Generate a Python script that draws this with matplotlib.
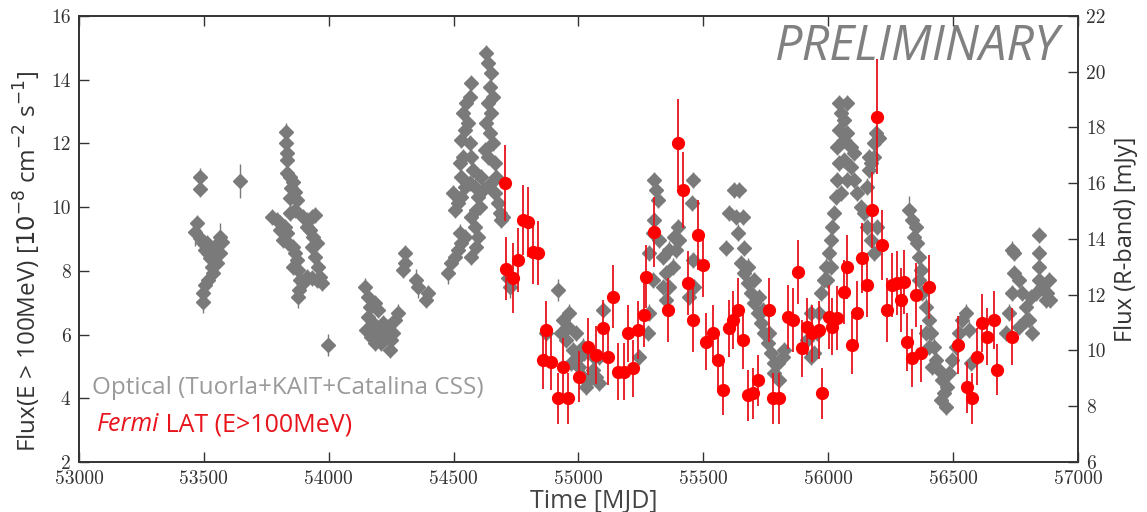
import matplotlib
matplotlib.use('Agg')
import matplotlib.pyplot as plt

# Optical R-band light curve (MJD, flux in mJy, error)
opt_mjd = [
    53464, 53471, 53484, 53484, 53484, 53497, 53497, 53497, 53504, 53504,
    53511, 53517, 53517, 53524, 53531, 53537, 53537, 53544, 53551, 53557,
    53564, 53564, 53571, 53644,
    53771, 53791, 53804, 53804, 53817, 53824, 53828, 53828, 53831, 53831,
    53831, 53833, 53838, 53844, 53844, 53844, 53850, 53857, 53857, 53857,
    53864, 53864, 53864, 53871, 53871, 53877, 53877, 53881, 53884, 53897,
    53897, 53911, 53911, 53911, 53924, 53931, 53931, 53931, 53937, 53944,
    53944, 53951, 53951, 53957, 53964, 53971, 53997,
    54144, 54151, 54157, 54157, 54164, 54171, 54177, 54184, 54184, 54197,
    54197, 54211, 54217, 54224, 54231, 54237, 54244, 54251, 54257, 54264,
    54277, 54297, 54304, 54304, 54351, 54357, 54391, 54397,
    54477, 54491, 54497, 54504, 54504, 54517, 54517, 54524, 54524, 54531,
    54531, 54531, 54531, 54537, 54537, 54544, 54544, 54544, 54551, 54557,
    54564, 54564, 54564, 54571, 54571, 54571, 54571, 54577, 54584, 54584,
    54591, 54591, 54597, 54597, 54604, 54611, 54617, 54624, 54631, 54631,
    54637, 54637, 54637, 54644, 54644, 54651, 54651, 54651, 54657, 54657,
    54664, 54664, 54671, 54677, 54684, 54691, 54697, 54717, 54724,
    54871, 54917, 54931, 54937, 54951, 54957, 54964, 54971, 54977, 54991,
    54991, 55004, 55017, 55017, 55024, 55031, 55044, 55057, 55064, 55071,
    55084, 55084, 55097,
    55244, 55277, 55284, 55284, 55297, 55297, 55304, 55304, 55311, 55317,
    55324, 55337, 55337, 55351, 55351, 55364, 55364, 55377, 55384, 55391,
    55397, 55404, 55444, 55453, 55457, 55457, 55464,
    55591, 55604, 55624, 55631, 55637, 55644, 55651, 55657, 55664, 55664,
    55677, 55677, 55691, 55704, 55704, 55717, 55724, 55731, 55737, 55744,
    55757, 55764, 55771, 55784, 55784, 55797, 55804, 55817, 55824,
    55917, 55931, 55931, 55944, 55957, 55964, 55971, 55984, 55991, 55997,
    56004, 56011, 56011, 56017, 56024, 56031, 56037, 56037, 56044, 56044,
    56044, 56051, 56051, 56064, 56064, 56064, 56077, 56077, 56077, 56091,
    56091, 56104, 56104, 56117, 56131, 56144, 56157, 56157, 56164, 56164,
    56171, 56171, 56184, 56184, 56184, 56191, 56197, 56204,
    56324, 56337, 56344, 56351, 56357, 56364, 56364, 56371, 56377, 56391,
    56391, 56404, 56404, 56411, 56417, 56424, 56431, 56444, 56451, 56457,
    56464, 56471, 56477, 56484, 56497, 56511, 56524, 56537, 56551, 56564,
    56571,
    56711, 56724, 56737, 56737, 56744, 56744, 56764, 56764, 56777, 56791,
    56791, 56804, 56811, 56817, 56831, 56844, 56844, 56844, 56844, 56857,
    56871, 56877, 56884, 56890,
]
opt_flux = [
    14.26, 14.57, 16.23, 15.79, 14.04, 13.86, 12.06, 11.74, 13.60, 12.35,
    13.86, 13.50, 12.53, 13.30, 13.00, 12.77, 13.60, 13.36, 13.14, 13.86,
    13.50, 14.07, 13.90, 16.08,
    14.79, 14.68, 14.57, 14.32, 13.96, 14.43, 17.85, 17.44, 17.08, 16.37,
    14.22, 16.83, 13.86, 16.22, 15.47, 14.93, 15.83, 16.04, 13.71, 13.00,
    15.69, 15.04, 13.50, 15.40, 13.25, 12.89, 11.92, 12.17, 12.53, 14.79,
    12.42, 14.68, 14.43, 12.64, 14.32, 14.79, 13.71, 12.60, 14.07, 14.86,
    13.36, 13.86, 12.53, 13.00, 12.64, 12.42, 10.20,
    12.29, 10.74, 11.93, 11.21, 11.57, 10.49, 10.99, 11.70, 10.27, 11.45,
    10.74, 10.27, 10.99, 10.49, 10.63, 10.84, 10.02, 10.38, 10.63, 11.09,
    11.35, 12.89, 13.50, 13.14, 12.53, 12.28, 11.81, 12.06,
    12.78, 13.14, 15.65, 13.36, 15.04, 13.61, 15.29, 14.22, 16.73, 13.86,
    15.51, 16.22, 17.55, 16.94, 18.52, 14.07, 15.87, 17.91, 18.88, 18.16,
    19.10, 17.44, 16.01, 19.60, 16.94, 14.79, 13.36, 16.48, 15.87, 14.43,
    15.04, 13.71, 15.51, 14.07, 15.15, 16.22, 15.76, 17.19, 20.67, 18.16,
    20.31, 18.88, 16.94, 19.45, 17.80, 19.96, 18.52, 16.01, 19.10, 17.44,
    16.73, 15.65, 16.22, 15.29, 14.93, 14.68, 14.79, 12.60, 12.28,
    10.63, 12.17, 10.63, 11.09, 10.38, 10.84, 11.35, 9.55, 10.02, 9.66,
    10.63, 9.41, 9.05, 10.13, 9.91, 8.69, 8.94, 9.30, 9.77, 9.05,
    8.83, 9.77, 11.45,
    9.77, 10.63, 11.35, 13.50, 12.53, 14.22, 16.12, 14.68, 15.76, 15.40,
    13.96, 13.36, 12.28, 12.78, 11.81, 12.28, 13.61, 13.00, 14.07, 13.61,
    14.43, 13.96, 11.92, 15.29, 16.12, 13.25, 12.28,
    13.68, 14.93, 15.76, 14.79, 14.22, 15.76, 13.14, 14.79, 13.68, 12.78,
    12.42, 13.00, 12.06, 11.70, 12.53, 11.35, 11.92, 10.99, 11.45, 10.63,
    10.27, 10.63, 9.91, 9.55, 9.19, 9.55, 8.94, 9.77, 10.02,
    10.38, 11.35, 9.77, 9.91, 10.63, 11.35, 12.06, 12.53, 13.00, 12.53,
    13.50, 13.96, 13.00, 14.43, 14.93, 15.51, 16.12, 17.30, 16.73, 17.91,
    18.88, 18.52, 15.65, 18.27, 16.83, 17.55, 18.88, 17.80, 16.12, 17.30,
    16.58, 16.12, 17.08, 15.65, 15.15, 14.93, 14.43, 15.87, 16.94, 16.48,
    13.96, 16.73, 13.50, 17.44, 16.94, 17.80, 14.43, 17.62,
    15.04, 14.68, 14.07, 14.43, 13.86, 13.36, 12.53, 12.89, 12.06, 11.57,
    10.63, 11.09, 10.13, 10.63, 9.41, 10.13, 9.66, 9.30, 8.22, 8.94,
    8.48, 7.97, 8.69, 9.19, 9.66, 10.13, 10.63, 11.09, 11.35, 10.74,
    9.55,
    10.63, 11.35, 12.06, 13.61, 12.78, 13.50, 12.53, 10.84, 12.06, 11.57,
    11.09, 11.09, 11.92, 10.63, 12.06, 12.53, 13.00, 13.50, 14.14, 12.28,
    11.81, 12.06, 12.53, 11.81,
]
opt_err = [
    0.5, 0.3, 0.3, 0.3, 0.3, 0.3, 0.3, 0.4, 0.3, 0.3,
    0.3, 0.3, 0.3, 0.3, 0.3, 0.3, 0.3, 0.3, 0.3, 0.3,
    0.3, 0.5, 0.3, 0.6,
    0.3, 0.3, 0.3, 0.3, 0.3, 0.3, 0.3, 0.3, 0.3, 0.3,
    0.3, 0.3, 0.3, 0.3, 0.3, 0.3, 0.3, 0.3, 0.3, 0.3,
    0.3, 0.3, 0.3, 0.3, 0.3, 0.3, 0.4, 0.3, 0.3, 0.3,
    0.3, 0.3, 0.3, 0.3, 0.3, 0.3, 0.3, 0.3, 0.3, 0.3,
    0.3, 0.3, 0.3, 0.3, 0.3, 0.3, 0.4,
    0.3, 0.3, 0.3, 0.3, 0.3, 0.3, 0.3, 0.3, 0.3, 0.3,
    0.3, 0.3, 0.3, 0.3, 0.3, 0.3, 0.3, 0.3, 0.3, 0.3,
    0.3, 0.3, 0.3, 0.3, 0.4, 0.4, 0.3, 0.3,
    0.4, 0.3, 0.3, 0.3, 0.3, 0.3, 0.3, 0.3, 0.3, 0.3,
    0.3, 0.3, 0.3, 0.3, 0.3, 0.3, 0.3, 0.3, 0.3, 0.3,
    0.3, 0.3, 0.3, 0.3, 0.3, 0.3, 0.3, 0.3, 0.3, 0.3,
    0.3, 0.3, 0.3, 0.3, 0.3, 0.3, 0.3, 0.3, 0.3, 0.3,
    0.3, 0.3, 0.3, 0.3, 0.3, 0.3, 0.3, 0.3, 0.3, 0.3,
    0.3, 0.3, 0.3, 0.3, 0.3, 0.3, 0.3, 0.3, 0.4,
    0.3, 0.4, 0.3, 0.3, 0.3, 0.3, 0.3, 0.3, 0.3, 0.3,
    0.3, 0.3, 0.3, 0.3, 0.3, 0.3, 0.3, 0.3, 0.3, 0.3,
    0.3, 0.3, 0.3,
    0.3, 0.3, 0.3, 0.3, 0.3, 0.3, 0.3, 0.3, 0.3, 0.3,
    0.3, 0.3, 0.3, 0.3, 0.3, 0.3, 0.3, 0.3, 0.3, 0.3,
    0.3, 0.3, 0.3, 0.3, 0.3, 0.3, 0.3,
    0.3, 0.3, 0.3, 0.3, 0.3, 0.3, 0.3, 0.3, 0.3, 0.3,
    0.3, 0.3, 0.3, 0.3, 0.3, 0.3, 0.3, 0.3, 0.3, 0.3,
    0.3, 0.3, 0.3, 0.3, 0.3, 0.3, 0.3, 0.3, 0.3,
    0.3, 0.3, 0.3, 0.3, 0.3, 0.3, 0.3, 0.3, 0.3, 0.3,
    0.3, 0.3, 0.3, 0.3, 0.3, 0.3, 0.3, 0.3, 0.3, 0.3,
    0.3, 0.3, 0.3, 0.3, 0.3, 0.3, 0.3, 0.3, 0.3, 0.3,
    0.3, 0.3, 0.3, 0.3, 0.3, 0.3, 0.3, 0.3, 0.3, 0.3,
    0.3, 0.3, 0.3, 0.3, 0.3, 0.3, 0.3, 0.3,
    0.5, 0.3, 0.3, 0.3, 0.3, 0.3, 0.3, 0.3, 0.3, 0.3,
    0.3, 0.3, 0.3, 0.3, 0.3, 0.3, 0.3, 0.3, 0.3, 0.3,
    0.3, 0.3, 0.3, 0.3, 0.3, 0.3, 0.3, 0.3, 0.3, 0.3,
    0.3,
    0.3, 0.3, 0.3, 0.3, 0.3, 0.3, 0.3, 0.3, 0.3, 0.3,
    0.3, 0.3, 0.3, 0.3, 0.3, 0.3, 0.3, 0.3, 0.3, 0.3,
    0.3, 0.3, 0.3, 0.3,
]

# Fermi LAT light curve, E > 100 MeV (MJD, flux in 1e-8 ph cm^-2 s^-1, error)
lat_mjd = [
    54704, 54711, 54737, 54757, 54777, 54797, 54817, 54837, 54857, 54870,
    54891, 54917, 54937, 54957, 55004, 55037, 55071, 55097, 55117, 55137,
    55157, 55184, 55197, 55217, 55237, 55264, 55271, 55304, 55357, 55397,
    55417, 55437, 55457, 55477, 55497, 55511, 55537, 55557, 55577, 55604,
    55617, 55637, 55657, 55677, 55697, 55717, 55764, 55777, 55804, 55837,
    55857, 55877, 55897, 55917, 55937, 55964, 55977, 56004, 56017, 56037,
    56064, 56077, 56097, 56117, 56137, 56157, 56177, 56197, 56217, 56237,
    56257, 56277, 56290, 56304, 56317, 56337, 56351, 56371, 56404, 56520,
    56557, 56577, 56597, 56617, 56637, 56664, 56677, 56737,
]
lat_flux = [
    10.76, 8.07, 7.77, 8.34, 9.60, 9.54, 8.59, 8.56, 5.20, 6.14,
    5.15, 4.00, 4.99, 4.00, 4.68, 5.62, 5.36, 6.20, 5.31, 7.19,
    4.83, 4.83, 6.04, 4.94, 6.14, 6.61, 7.82, 9.23, 6.77, 12.00,
    10.54, 7.61, 6.46, 9.12, 8.18, 5.78, 6.04, 5.20, 4.26, 6.20,
    6.46, 6.77, 5.83, 4.10, 4.16, 4.57, 6.77, 4.00, 4.00, 6.56,
    6.46, 7.97, 5.57, 6.25, 6.04, 6.14, 4.16, 6.56, 6.25, 6.51,
    7.34, 8.12, 5.67, 6.67, 8.40, 7.56, 9.91, 12.84, 8.81, 6.77,
    7.56, 7.61, 7.08, 7.66, 5.77, 5.26, 7.24, 5.41, 7.50, 5.67,
    4.35, 4.00, 5.31, 6.36, 5.93, 6.46, 4.89, 5.93,
]
lat_err = [
    1.2, 1.0, 1.1, 1.0, 1.1, 1.1, 1.0, 1.0, 0.9, 0.9,
    0.9, 0.8, 0.9, 0.8, 0.8, 0.9, 0.9, 0.9, 0.9, 1.0,
    0.9, 0.9, 0.9, 0.9, 0.9, 1.0, 1.0, 1.1, 1.0, 1.4,
    1.2, 1.0, 1.0, 1.1, 1.0, 0.9, 0.9, 0.9, 0.8, 0.9,
    0.9, 1.0, 0.9, 0.8, 0.8, 0.8, 1.0, 0.8, 0.8, 1.0,
    1.0, 1.0, 0.9, 0.9, 0.9, 0.9, 0.8, 1.0, 0.9, 1.0,
    1.0, 1.0, 0.9, 1.0, 1.1, 1.0, 1.2, 1.8, 1.1, 1.0,
    1.0, 1.0, 1.0, 1.0, 0.9, 0.9, 1.0, 0.9, 1.0, 0.9,
    0.8, 0.8, 0.9, 0.9, 0.9, 0.9, 0.8, 0.9,
]

plt.rcParams['font.family'] = ['Open Sans', 'DejaVu Sans']

fig = plt.figure(figsize=(11.47, 5.12), dpi=100)
ax = fig.add_axes([0.0689, 0.0977, 0.8709, 0.8711])
ax2 = ax.twinx()

gray = '#7a7a7a'
red = '#ff0000'

ax2.errorbar(opt_mjd, opt_flux, yerr=opt_err, fmt='D', ms=7, color=gray,
             mec=gray, ecolor=gray, elinewidth=1.0, capsize=0)
ax.errorbar(lat_mjd, lat_flux, yerr=lat_err, fmt='o', ms=8.5, color=red,
            mec=red, ecolor='#e8141c', elinewidth=1.3, capsize=0)

# keep the LAT points drawn above the optical ones
ax.set_zorder(ax2.get_zorder() + 1)
ax.patch.set_visible(False)

ax.set_xlim(53000, 57000)
ax.set_ylim(2, 16)
ax2.set_ylim(6, 22)
ax.set_xticks(range(53000, 57001, 500))
ax.set_yticks(range(2, 17, 2))
ax2.set_yticks(range(6, 23, 2))

for a in (ax, ax2):
    for s in a.spines.values():
        s.set_color('#333333')
        s.set_linewidth(1.2)
ax.tick_params(axis='both', direction='in', length=7, width=1, color='#333333',
               labelsize=14, labelcolor='#333333', labelfontfamily='cmr10', pad=6)
ax.tick_params(axis='x', top=True)
ax2.tick_params(axis='y', direction='in', length=7, width=1, color='#333333',
                labelsize=14, labelcolor='#333333', labelfontfamily='cmr10', pad=6)

ax.set_xlabel('Time [MJD]', fontsize=18, color='#444444')
ax.xaxis.set_label_coords(0.515, -0.06)
ax.set_ylabel(r'Flux(E > 100MeV) [$10^{-8}$ cm$^{-2}$ s$^{-1}$]', fontsize=17.5,
              color='#333333')
ax.yaxis.set_label_coords(-0.036, 0.45)
ax2.set_ylabel('Flux (R-band) [mJy]', fontsize=17, color='#333333', labelpad=6)

ax.text(0.982, 0.985, 'PRELIMINARY', transform=ax.transAxes, ha='right', va='top',
        fontsize=35, style='italic', color='#808080')

ax.text(0.013, 0.166, 'Optical (Tuorla+KAIT+Catalina CSS)', transform=ax.transAxes,
        ha='left', va='center', fontsize=17.5, color='#9a9a9a')
t = ax.text(0.018, 0.083, 'Fermi', transform=ax.transAxes, ha='left', va='center',
            fontsize=18, style='italic', color='#e8141c')
ax.annotate(' LAT (E>100MeV)', xy=(1, 0), xycoords=t, ha='left', va='bottom',
            fontsize=18, color='#e8141c')

fig.savefig('out.png', dpi=100)
